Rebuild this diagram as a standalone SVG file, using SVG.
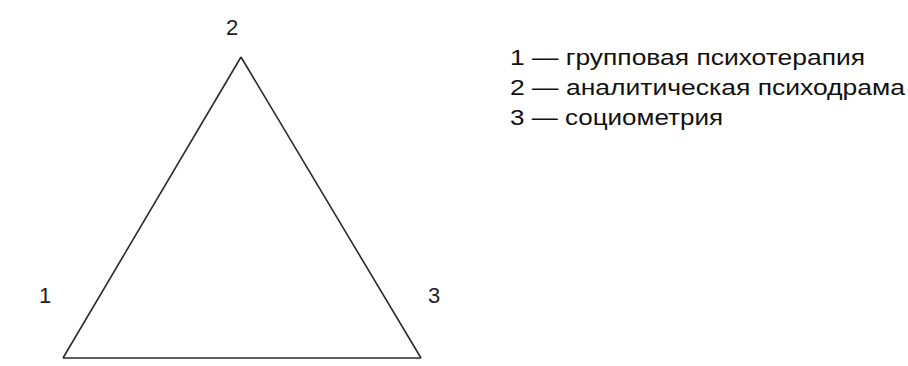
<svg xmlns="http://www.w3.org/2000/svg" width="908" height="366" viewBox="0 0 908 366">
<style>
.lbl{font-family:"Liberation Sans",Arial,sans-serif;font-size:22px;fill:#222}
.leg{font-family:"Liberation Sans",Arial,sans-serif;font-size:22px;fill:#111}
.edge{stroke:#2a2a2a;stroke-width:1.6;fill:none;stroke-linejoin:miter}
</style>
<rect width="908" height="366" fill="#fff"/>
<g id="connectors">
<line class="edge" x1="241" y1="57" x2="63" y2="358"/>
<line class="edge" x1="241" y1="57" x2="421" y2="358"/>
<line class="edge" x1="63" y1="358" x2="421" y2="358"/>
</g>
<g id="node-2"><text class="lbl" x="232" y="35" text-anchor="middle">2</text></g>
<g id="node-1"><text class="lbl" x="45" y="303" text-anchor="middle">1</text></g>
<g id="node-3"><text class="lbl" x="434" y="303" text-anchor="middle">3</text></g>
<g id="legend">
<text class="leg" x="510" y="65" textLength="355" lengthAdjust="spacingAndGlyphs">1 — групповая психотерапия</text>
<text class="leg" x="510" y="95" textLength="395" lengthAdjust="spacingAndGlyphs">2 — аналитическая психодрама</text>
<text class="leg" x="510" y="125" textLength="213" lengthAdjust="spacingAndGlyphs">3 — социометрия</text>
</g>
</svg>
